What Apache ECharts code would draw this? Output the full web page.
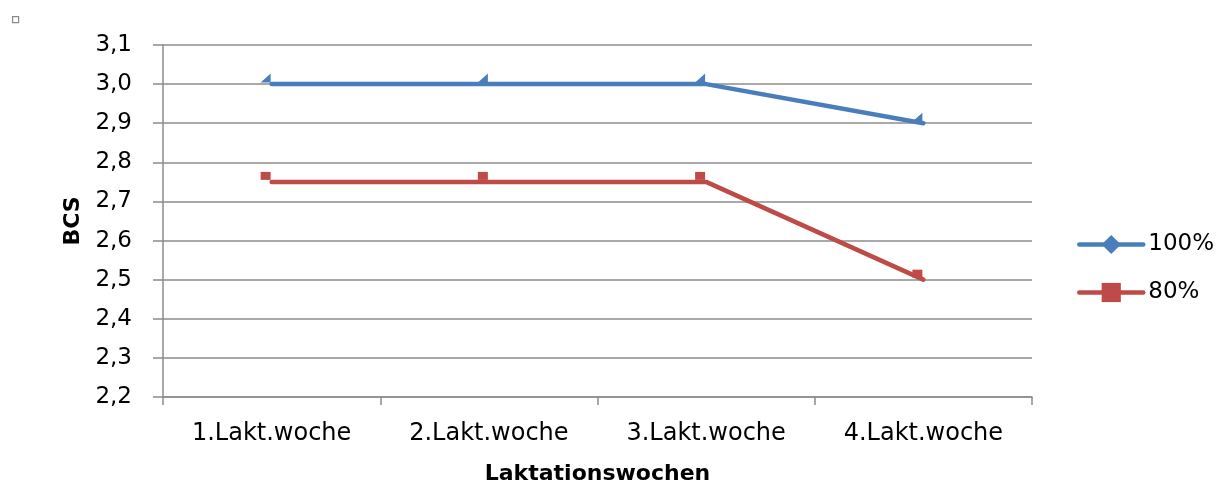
<!DOCTYPE html>
<html>
<head>
<meta charset="utf-8">
<script src="https://cdn.jsdelivr.net/npm/echarts@6/dist/echarts.min.js"></script>
<style>
  html, body { margin: 0; padding: 0; background: #ffffff; }
  #chart { width: 1216px; height: 483px; }
</style>
</head>
<body>
<div id="chart"></div>
<script>
// Lactation weeks on the x axis
const weeks = ['1.Lakt.woche', '2.Lakt.woche', '3.Lakt.woche', '4.Lakt.woche'];
// Body condition score per feeding level
const bcs100 = [3.0, 3.0, 3.0, 2.9];
const bcs80 = [2.75, 2.75, 2.75, 2.5];
const seriesNames = ['100%', '80%'];

const FONT = 'DejaVu Sans';
const BLUE = '#4a7ebb';
const RED = '#be4b48';
const GRID = '#8c8c8c';

// Point markers sit slightly up-left of each point; the legend keeps the plain symbol
const TRI = 'path://M0,10L10,0L10,10Z';
const withMarker = (values, symbol, size) =>
  values.map(v => ({ value: v, symbol: symbol, symbolSize: size, symbolOffset: [-6, -6] }));

const chart = echarts.init(document.getElementById('chart'), null, { renderer: 'canvas' });

chart.setOption({
  backgroundColor: '#ffffff',
  animation: false,
  grid: { left: 163, right: 184, top: 45, bottom: 86, outerBoundsMode: 'none', containLabel: false },
  graphic: [{
    type: 'rect',
    left: 12, top: 16,
    shape: { width: 6, height: 6 },
    style: { fill: '#ffffff', stroke: '#8a8a8a', lineWidth: 1.2 }
  }],
  legend: {
    orient: 'vertical',
    left: 1077,
    top: 233,
    padding: 0,
    itemWidth: 64,
    itemHeight: 24,
    itemGap: 25,
    lineStyle: { width: 4.5 },
    textStyle: { fontFamily: FONT, fontSize: 23, color: '#000000' },
    data: seriesNames
  },
  xAxis: {
    type: 'category',
    data: weeks,
    boundaryGap: true,
    name: 'Laktationswochen',
    nameLocation: 'middle',
    nameGap: 66,
    nameTextStyle: { fontFamily: FONT, fontSize: 22, fontWeight: 'bold', color: '#000000' },
    axisLine: { lineStyle: { color: GRID, width: 1.5 } },
    axisTick: { show: true, length: 8, alignWithLabel: false, lineStyle: { color: GRID, width: 1.5 } },
    axisLabel: { fontFamily: FONT, fontSize: 24, color: '#000000', margin: 25 },
    splitLine: { show: false }
  },
  yAxis: {
    type: 'value',
    min: 2.2,
    max: 3.1,
    interval: 0.1,
    name: 'BCS',
    nameLocation: 'middle',
    nameGap: 77,
    nameTextStyle: { fontFamily: FONT, fontSize: 22, fontWeight: 'bold', color: '#000000' },
    axisLine: { show: true, lineStyle: { color: GRID, width: 1.5 } },
    axisTick: { show: true, length: 10, lineStyle: { color: GRID, width: 1.5 } },
    axisLabel: {
      fontFamily: FONT, fontSize: 23, color: '#000000', margin: 31,
      formatter: v => v.toFixed(1).replace('.', ',')
    },
    splitLine: { show: true, lineStyle: { color: GRID, width: 1.5 } }
  },
  series: [
    {
      name: seriesNames[0],
      type: 'line',
      data: withMarker(bcs100, TRI, [10, 9]),
      color: BLUE,
      lineStyle: { color: BLUE, width: 4.5, cap: 'round' },
      symbol: 'diamond',
      symbolSize: 15,
      showSymbol: true,
      itemStyle: { color: BLUE },
      emphasis: { disabled: true }
    },
    {
      name: seriesNames[1],
      type: 'line',
      data: withMarker(bcs80, 'rect', [10, 8]),
      color: RED,
      lineStyle: { color: RED, width: 4.5, cap: 'round' },
      symbol: 'rect',
      symbolSize: 17,
      showSymbol: true,
      itemStyle: { color: RED },
      emphasis: { disabled: true }
    }
  ]
});
</script>
</body>
</html>
